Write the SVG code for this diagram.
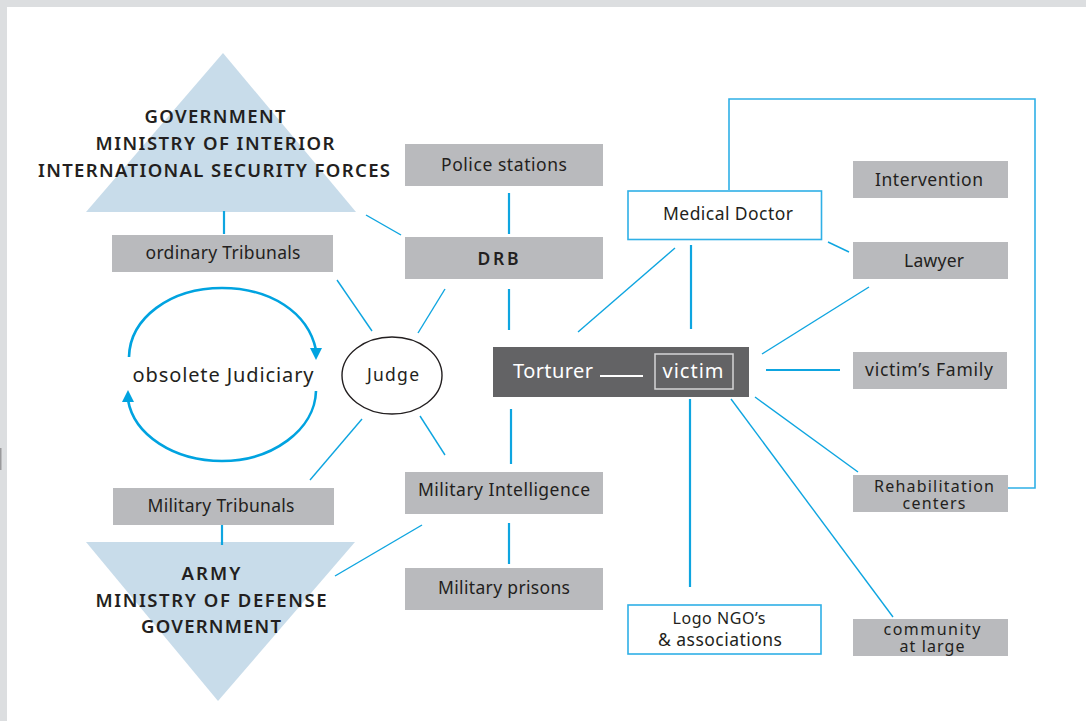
<svg xmlns="http://www.w3.org/2000/svg" width="1086" height="721" viewBox="0 0 1086 721">
<style>
text{font-family:"Noto Sans","Open Sans","Liberation Sans",sans-serif;fill:#231f20;text-anchor:middle}
.g{fill:#b9babd}
.t{fill:#c8dcea}
.w{fill:#fff;stroke:#2fb0e6;stroke-width:1.6}
.l{font-size:17.5px}
.s{font-size:16px}
.c{font-size:18.5px;font-weight:600}
.k line{stroke:#0ea5e0;stroke-width:1.4}
.k .b{stroke-width:2.2}
.a{fill:#00a3e0}
</style>
<rect width="1086" height="721" fill="#fff"/>
<path d="M0 0H1086V7H7V721H0Z" fill="#dcdee0"/>
<rect x="0" y="448" width="1.500" height="22" fill="#9a9a9c"/>
<g id="gov"><path class="t" d="M223 53L356 212H86Z"/><text class="c" x="215" y="123" textLength="141">GOVERNMENT</text><text class="c" x="215" y="150" textLength="239">MINISTRY OF INTERIOR</text><text class="c" x="214" y="177" textLength="352">INTERNATIONAL SECURITY FORCES</text></g>
<g id="army"><path class="t" d="M86 542H355L218 701Z"/><text class="c" x="211" y="580" textLength="59">ARMY</text><text class="c" x="211" y="607" textLength="231">MINISTRY OF DEFENSE</text><text class="c" x="211" y="633" textLength="140">GOVERNMENT</text></g>
<g id="connectors" class="k">
<line class="b" x1="224" y1="211" x2="224" y2="234"/><line class="b" x1="222" y1="522" x2="222" y2="545"/>
<line x1="366" y1="215" x2="401" y2="235"/><line x1="337" y1="280" x2="372" y2="331"/><line x1="445" y1="289" x2="418" y2="333"/>
<line x1="362" y1="419" x2="310" y2="480"/><line x1="420" y1="416" x2="445" y2="455"/><line x1="335" y1="576" x2="422" y2="525"/>
<line class="b" x1="509" y1="193" x2="509" y2="234"/><line class="b" x1="509" y1="289" x2="509" y2="330"/><line class="b" x1="511" y1="409" x2="511" y2="464"/><line class="b" x1="509" y1="523" x2="509" y2="564"/>
<line x1="675" y1="248" x2="578" y2="332"/><line class="b" x1="691" y1="245" x2="691" y2="329"/><line x1="828" y1="242" x2="849" y2="252"/>
<line x1="869" y1="287" x2="762" y2="354"/><line class="b" x1="766" y1="370" x2="840" y2="370"/><line x1="755" y1="397" x2="858" y2="472"/>
<line class="b" x1="690" y1="399" x2="690" y2="587"/><line x1="731" y1="399" x2="893" y2="617"/>
<path d="M729 190V99H1035V488H1007" fill="none" stroke="#2fb0e6" stroke-width="1.6"/>
<path d="M129 357C130 318 170 288 222 288C270 288 308 312 316 350" fill="none" stroke="#00a3e0" stroke-width="2.6"/>
<path class="a" d="M310 348H322L316 360Z"/>
<path d="M316 391C315 430 272 461 222 461C174 461 134 435 128 400" fill="none" stroke="#00a3e0" stroke-width="2.6"/>
<path class="a" d="M128 390L134 402H122Z"/>
</g>
<g id="ordinary"><rect class="g" x="112" y="235" width="221" height="37"/><text class="l" x="223" y="259" textLength="155">ordinary Tribunals</text></g>
<g id="military-tribunals"><rect class="g" x="113" y="488" width="221" height="37"/><text class="l" x="221" y="512" textLength="147">Military Tribunals</text></g>
<g id="police"><rect class="g" x="405" y="144" width="198" height="42"/><text class="l" x="504" y="171" textLength="126">Police stations</text></g>
<g id="drb"><rect class="g" x="405" y="237" width="198" height="42"/><text class="l" x="498" y="265" style="font-weight:600" textLength="41">DRB</text></g>
<g id="intel"><rect class="g" x="405" y="472" width="198" height="42"/><text class="l" x="504" y="496" textLength="172">Military Intelligence</text></g>
<g id="prisons"><rect class="g" x="405" y="568" width="198" height="42"/><text class="l" x="504" y="594" textLength="132">Military prisons</text></g>
<g id="judiciary"><text x="223" y="382" font-size="20" textLength="181">obsolete Judiciary</text></g>
<g id="judge"><ellipse cx="392" cy="375.500" rx="50" ry="38.500" fill="#fff" stroke="#231f20" stroke-width="1.4"/><text class="l" x="393" y="381" textLength="52">Judge</text></g>
<g id="torturer"><rect x="493" y="347" width="256" height="50" fill="#636365"/><text x="553" y="378" font-size="20" style="fill:#fff" textLength="80">Torturer</text><line x1="600" y1="376" x2="643" y2="376" stroke="#fff" stroke-width="2"/></g>
<g id="victim"><rect x="655" y="354" width="78" height="35" fill="#636365" stroke="#d5d5d6" stroke-width="1.500"/><text x="693" y="378" font-size="20" style="fill:#fff" textLength="61">victim</text></g>
<g id="doctor"><rect class="w" x="628" y="191" width="193.500" height="48.500"/><text class="l" x="728" y="220" textLength="130">Medical Doctor</text></g>
<g id="intervention"><rect class="g" x="853" y="161" width="155" height="37"/><text class="l" x="929" y="186" textLength="108">Intervention</text></g>
<g id="lawyer"><rect class="g" x="853" y="242" width="155" height="37"/><text class="l" x="934" y="267" textLength="60">Lawyer</text></g>
<g id="family"><rect class="g" x="853" y="352" width="154" height="37"/><text class="l" x="929" y="376" textLength="128">victim’s Family</text></g>
<g id="rehab"><rect class="g" x="853" y="475" width="155" height="37"/><text class="s" x="934" y="492" textLength="120">Rehabilitation</text><text class="s" x="934" y="509" textLength="63">centers</text></g>
<g id="community"><rect class="g" x="853" y="619" width="155" height="37"/><text class="s" x="932" y="635" textLength="97">community</text><text class="s" x="932" y="652" textLength="65">at large</text></g>
<g id="ngo"><rect class="w" x="628" y="605" width="193" height="49"/><text class="s" x="719" y="624" textLength="93">Logo NGO’s</text><text class="l" x="720" y="646" textLength="124">&amp; associations</text></g>
</svg>
